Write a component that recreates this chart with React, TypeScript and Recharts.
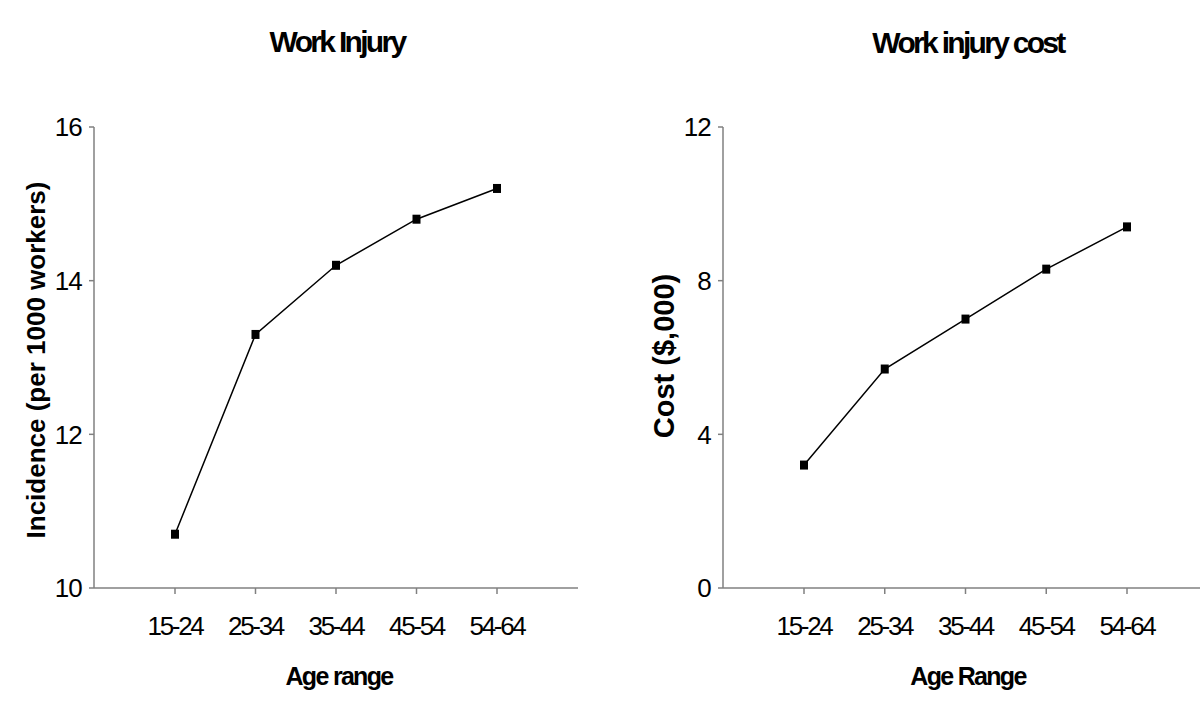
import { Line, LineChart, XAxis, YAxis } from "recharts"

const ageRanges = ["15-24", "25-34", "35-44", "45-54", "54-64"]
const incidence = [10.7, 13.3, 14.2, 14.8, 15.2]
const costThousands = [3.2, 5.7, 7.0, 8.3, 9.4]
const incidenceTicks = [10, 12, 14, 16]
const costTicks = [0, 4, 8, 12]

const injuryData = ageRanges.map((age, i) => ({ age, value: incidence[i] }))
const costData = ageRanges.map((age, i) => ({ age, value: costThousands[i] }))

const font = "'Liberation Sans', Arial, sans-serif"
const axisGray = "#808080"

function SquareDot(props: any) {
  const { cx, cy } = props
  if (cx == null || cy == null) return null
  return <rect x={cx - 4} y={cy - 4.5} width={8} height={9} fill="#000" />
}

function AgeTick({ x, y, payload }: any) {
  return (
    <text
      x={x}
      y={y}
      dy="0.71em"
      textAnchor="middle"
      fill="#000"
      fontFamily={font}
      fontSize={26}
      letterSpacing={-2.3}
    >
      {payload.value}
    </text>
  )
}

function ValueTick({ x, y, payload }: any) {
  return (
    <text
      x={x}
      y={y}
      dy="0.355em"
      textAnchor="end"
      fill="#000"
      fontFamily={font}
      fontSize={26}
      letterSpacing={-0.8}
    >
      {payload.value}
    </text>
  )
}

function Panel({
  data,
  domain,
  ticks,
  left,
  width,
  yAxisWidth,
  marginRight,
}: {
  data: Array<{ age: string; value: number }>
  domain: [number, number]
  ticks: Array<number>
  left: number
  width: number
  yAxisWidth: number
  marginRight: number
}) {
  return (
    <div style={{ position: "absolute", left, top: 0 }}>
      <LineChart
        width={width}
        height={723}
        data={data}
        margin={{ top: 127, right: marginRight, bottom: 0, left: 0 }}
      >
        <XAxis
          dataKey="age"
          height={135}
          padding={{ left: 81, right: 81 }}
          axisLine={{ stroke: axisGray, strokeWidth: 1.5 }}
          tickLine={{ stroke: axisGray, strokeWidth: 1.5 }}
          tickSize={6}
          tickMargin={23}
          tick={<AgeTick />}
          interval={0}
        />
        <YAxis
          type="number"
          domain={domain}
          ticks={ticks}
          width={yAxisWidth}
          axisLine={{ stroke: axisGray, strokeWidth: 1.5 }}
          tickLine={{ stroke: axisGray, strokeWidth: 1.5 }}
          tickSize={5}
          tickMargin={7}
          tick={<ValueTick />}
        />
        <Line
          type="linear"
          dataKey="value"
          stroke="#000"
          strokeWidth={1.5}
          dot={<SquareDot />}
          activeDot={false}
          isAnimationActive={false}
        />
      </LineChart>
    </div>
  )
}

export default function App() {
  return (
    <div
      style={{
        position: "absolute",
        left: 0,
        top: 0,
        width: 1200,
        height: 723,
        overflow: "hidden",
        background: "#fff",
      }}
    >
      <Panel
        data={injuryData}
        domain={[10, 16]}
        ticks={incidenceTicks}
        left={0}
        width={600}
        yAxisWidth={94}
        marginRight={22}
      />
      <Panel
        data={costData}
        domain={[0, 12]}
        ticks={costTicks}
        left={600}
        width={620}
        yAxisWidth={123}
        marginRight={12}
      />
      <svg
        width={1200}
        height={723}
        style={{ position: "absolute", left: 0, top: 0, pointerEvents: "none" }}
        fontFamily={font}
        fontWeight="bold"
        fill="#000"
      >
        <text x={337} y={52} textAnchor="middle" fontSize={30} letterSpacing={-2.7}>
          Work Injury
        </text>
        <text x={968} y={53} textAnchor="middle" fontSize={30} letterSpacing={-2.7}>
          Work injury cost
        </text>
        <text x={339} y={685} textAnchor="middle" fontSize={25} letterSpacing={-1.7}>
          Age range
        </text>
        <text x={968} y={685} textAnchor="middle" fontSize={25} letterSpacing={-1.7}>
          Age Range
        </text>
        <text
          transform="translate(45, 360) rotate(-90)"
          textAnchor="middle"
          fontSize={26}
        >
          Incidence (per 1000 workers)
        </text>
        <text
          transform="translate(674, 356) rotate(-90)"
          textAnchor="middle"
          fontSize={29}
        >
          Cost ($,000)
        </text>
      </svg>
    </div>
  )
}
